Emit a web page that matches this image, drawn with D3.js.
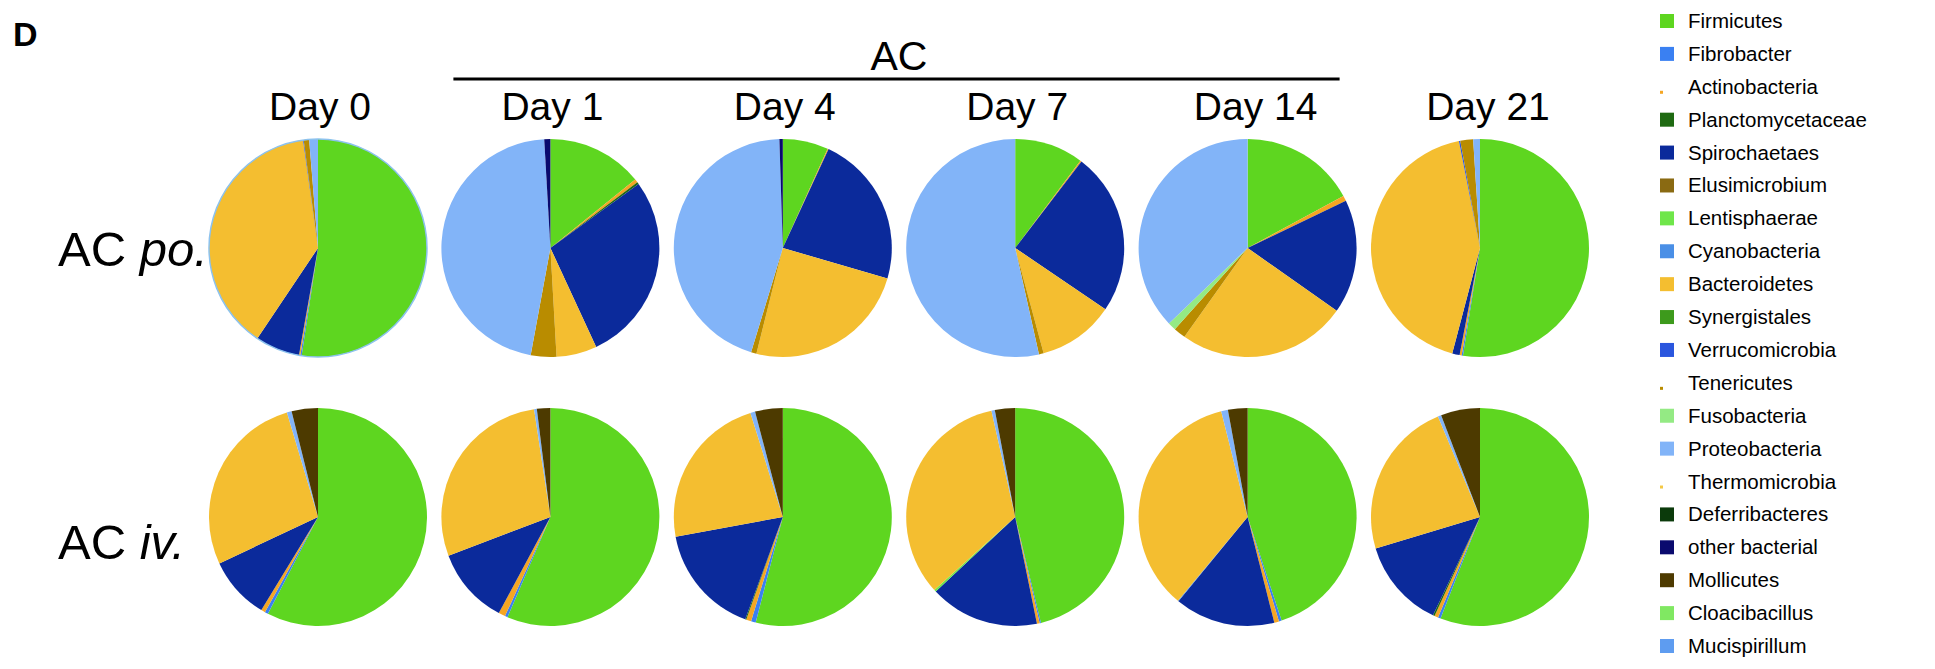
<!DOCTYPE html>
<html>
<head>
<meta charset="utf-8">
<script src="https://cdn.jsdelivr.net/npm/d3@7"></script>
<style>
  body { margin: 0; background: #fff; }
  text { font-family: "Liberation Sans", Arial, sans-serif; fill: #000; }
</style>
</head>
<body>
<div id="container"></div>
<script>
/* CONSTANTS AND GLOBALS */
const width = 1935,
  height = 669

/* DATA */
const phyla = ["Firmicutes", "Fibrobacter", "Actinobacteria", "Planctomycetaceae", "Spirochaetaes",
  "Elusimicrobium", "Lentisphaerae", "Cyanobacteria", "Bacteroidetes", "Synergistales",
  "Verrucomicrobia", "Tenericutes", "Fusobacteria", "Proteobacteria", "Thermomicrobia",
  "Deferribacteres", "other bacterial", "Mollicutes", "Cloacibacillus", "Mucispirillum"]

const phylumColors = ["#5ed620", "#3a80f2", "#f5a623", "#1f6a12", "#0b2a9b",
  "#8a6a12", "#6fe64a", "#4a8fe6", "#f4be30", "#3d9a1c",
  "#2a56de", "#b98c00", "#94ea84", "#82b4f8", "#f4c845",
  "#0b3a0b", "#0a0a6e", "#4d3a00", "#80e862", "#5e9cf0"]

const days = ["Day 0", "Day 1", "Day 4", "Day 7", "Day 14", "Day 21"]
const routes = ["AC po.", "AC iv."]
const groupLabel = "AC"
const panelLetter = "D"

// percent per phylum (same order as phyla), one row per day
const poValues = [
  [52.4, 0.2, 0.2, 0, 6.6, 0, 0, 0, 38.4, 0, 0.1, 0.8, 0, 1.3, 0, 0, 0, 0, 0, 0],
  [14.2, 0, 0.5, 0.3, 28.1, 0, 0, 0, 6.0, 0, 0, 3.8, 0, 46.2, 0, 0, 0.9, 0, 0, 0],
  [6.75, 0, 0.15, 0, 22.6, 0, 0, 0, 24.4, 0, 0, 0.8, 0, 44.8, 0, 0, 0.5, 0, 0, 0],
  [10.2, 0, 0.2, 0, 24.1, 0, 0, 0, 11.3, 0, 0, 0.7, 0, 53.5, 0, 0, 0, 0, 0, 0],
  [17.1, 0, 0.8, 0, 16.9, 0, 0, 0, 25.1, 0, 0, 1.8, 1.2, 37.2, 0, 0, 0, 0, 0, 0],
  [52.5, 0.2, 0.3, 0, 1.1, 0, 0, 0, 42.8, 0, 0.2, 1.9, 0, 1.0, 0, 0, 0, 0, 0, 0]
]

const ivValues = [
  [57.6, 0.5, 0.6, 0, 9.3, 0, 0, 0, 27.4, 0, 0, 0, 0, 0.7, 0, 0, 0, 3.9, 0, 0],
  [56.5, 0.4, 1.0, 0, 11.4, 0, 0, 0, 28.4, 0, 0, 0, 0, 0.4, 0, 0, 0, 2.0, 0, 0],
  [54.0, 0.7, 0.75, 0.15, 16.5, 0, 0, 0, 23.1, 0, 0, 0, 0, 0.7, 0, 0, 0, 4.1, 0, 0],
  [46.2, 0.2, 0.4, 0, 16.2, 0, 0.3, 0, 33.2, 0, 0, 0, 0, 0.5, 0, 0, 0, 3.0, 0, 0],
  [45.0, 0.4, 0.7, 0, 14.9, 0, 0, 0.1, 35.1, 0, 0, 0, 0, 1.0, 0, 0, 0, 2.9, 0, 0],
  [55.9, 0.4, 0.55, 0.25, 13.25, 0, 0, 0, 23.35, 0, 0, 0, 0, 0.5, 0, 0, 0, 5.8, 0, 0]
]

// legend entries drawn as a small mark instead of a full square in the original
const tinySwatch = new Set(["Actinobacteria", "Tenericutes", "Thermomicrobia"])

/* SCALES */
const xScale = d3.scalePoint()
  .domain(days)
  .range([318, 1480])

const yScale = d3.scalePoint()
  .domain(routes)
  .range([248, 517])

const color = d3.scaleOrdinal()
  .domain(phyla)
  .range(phylumColors)

const legendY = d3.scalePoint()
  .domain(phyla)
  .range([21, 646])

const radius = 109

/* SVG */
const svg = d3.select("#container")
  .append("svg")
  .attr("width", width)
  .attr("height", height)

// panel letter
svg.append("text")
  .attr("x", 13)
  .attr("y", 46)
  .attr("font-size", 34)
  .attr("font-weight", "bold")
  .text(panelLetter)

// group header and bar
svg.append("text")
  .attr("x", (xScale("Day 1") + xScale("Day 14")) / 2)
  .attr("y", 70)
  .attr("text-anchor", "middle")
  .attr("font-size", 41)
  .text(groupLabel)

svg.append("line")
  .attr("x1", xScale("Day 1") - 97)
  .attr("x2", xScale("Day 14") + 92)
  .attr("y1", 79)
  .attr("y2", 79)
  .attr("stroke", "#000")
  .attr("stroke-width", 3)

// day labels (the two-digit ones sit a little right of their pies)
svg.selectAll(".day-label")
  .data(days)
  .join("text")
  .attr("class", "day-label")
  .attr("x", d => xScale(d) + (d.length > 5 ? 8 : 2))
  .attr("y", 120)
  .attr("text-anchor", "middle")
  .attr("font-size", 39)
  .text(d => d)

// row labels (route word in italics)
routes.forEach((r, i) => {
  const parts = r.split(" ")
  const t = svg.append("text")
    .attr("x", 58)
    .attr("y", yScale(r) + 18 + i * 24)
    .attr("font-size", 49)
  t.append("tspan").text(parts[0] + " ")
  t.append("tspan").attr("font-style", "italic").text(parts[1])
})

/* PIES */
const pie = d3.pie()
  .sort(null)
  .value(d => d.value)

const arc = d3.arc()
  .innerRadius(0)
  .outerRadius(radius)

const rows = [
  { route: "AC po.", values: poValues },
  { route: "AC iv.", values: ivValues }
]

rows.forEach(row => {
  days.forEach((day, i) => {
    const slices = phyla.map((p, j) => ({ phylum: p, value: row.values[i][j] }))
      .filter(d => d.value > 0)

    const g = svg.append("g")
      .attr("transform", `translate(${xScale(day)}, ${yScale(row.route)})`)

    g.selectAll("path")
      .data(pie(slices))
      .join("path")
      .attr("d", arc)
      .attr("fill", d => color(d.data.phylum))

    // Day 0 oral pie has a thin light-blue rim in the original
    if (row.route === "AC po." && day === "Day 0") {
      g.append("circle")
        .attr("r", radius)
        .attr("fill", "none")
        .attr("stroke", "#8cc2ee")
        .attr("stroke-width", 1.5)
    }
  })
})

/* LEGEND */
const legend = svg.append("g")

legend.selectAll("rect")
  .data(phyla)
  .join("rect")
  .attr("x", 1660)
  .attr("y", d => tinySwatch.has(d) ? legendY(d) + 4 : legendY(d) - 7)
  .attr("width", d => tinySwatch.has(d) ? 3 : 14)
  .attr("height", d => tinySwatch.has(d) ? 3 : 14)
  .attr("fill", d => color(d))

legend.selectAll("text")
  .data(phyla)
  .join("text")
  .attr("x", 1688)
  .attr("y", d => legendY(d) + 7)
  .attr("font-size", 20.5)
  .text(d => d)
</script>
</body>
</html>
